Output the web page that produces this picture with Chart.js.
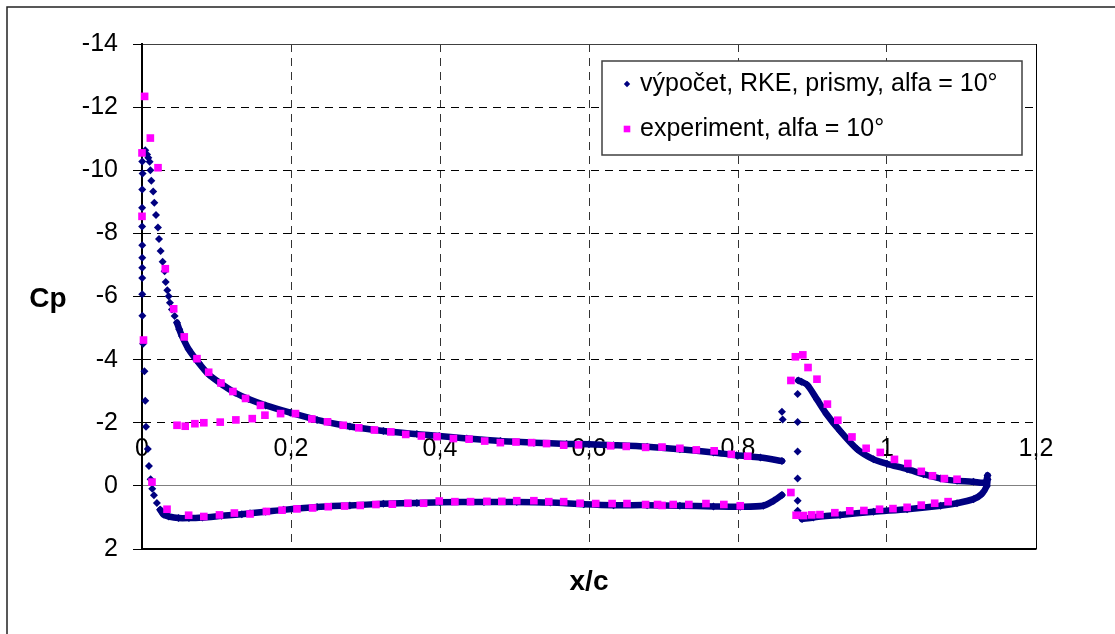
<!DOCTYPE html>
<html>
<head>
<meta charset="utf-8">
<script src="https://cdn.jsdelivr.net/npm/chart.js@4.4.1/dist/chart.umd.min.js"></script>
<style>
html, body { margin: 0; padding: 0; background: #fff; }
canvas { display: block; }
</style>
</head>
<body>
<canvas id="chart" width="1115" height="634"></canvas>
<script>
// values: [x/c, Cp]
var calcLabel = 'výpočet, RKE, prismy, alfa = 10°';
var expLabel = 'experiment, alfa = 10°';
var xTitle = 'x/c';
var yTitle = 'Cp';
var xTickLabels = ['0', '0,2', '0,4', '0,6', '0,8', '1', '1,2'];

// computed - sparse points round the main element nose
var calcNoseLower = [[0.0003,-10.28],[0.0008,-9.90],[0.0003,-9.39],[0.0002,-8.81],[0.0002,-8.22],[0.0003,-7.62],
  [0.0003,-7.23],[0.0003,-6.91],[0.0003,-6.59],[0.0003,-6.07],[0.0005,-5.39],[0.0015,-4.50],[0.0033,-3.63],
  [0.0044,-2.70],[0.0054,-1.87],[0.0078,-1.17],[0.0093,-0.63],[0.0116,-0.21],[0.0138,0.09],[0.016,0.30],
  [0.020,0.54],[0.0245,0.76]];
var calcNoseUpper = [[0.0044,-10.63],[0.0068,-10.50],[0.0085,-10.40],[0.0102,-10.27],[0.0112,-10.0],[0.0125,-9.67],
  [0.0150,-9.33],[0.0165,-8.97],[0.0188,-8.58],[0.0214,-8.19],[0.0228,-7.82],[0.0250,-7.44],[0.0277,-7.10],
  [0.0304,-6.80],[0.0318,-6.46],[0.0340,-6.20],[0.0358,-6.01],[0.0375,-5.80],[0.0402,-5.59],[0.0438,-5.38]];
var calcFlapNose = [[0.859,-2.35],[0.860,-2.10],[0.880,-2.91],[0.880,-2.02],[0.880,-1.09],[0.880,-0.23],[0.880,0.47],[0.880,0.79]];

// computed - dense parts
var calcUpper = [[0.0469,-5.17],[0.050,-4.96],[0.0536,-4.75],[0.0626,-4.33],[0.0761,-3.90],[0.0895,-3.53],[0.107,-3.22],
  [0.125,-2.95],[0.143,-2.75],[0.166,-2.55],[0.199,-2.32],[0.235,-2.09],[0.279,-1.88],[0.324,-1.74],[0.369,-1.64],
  [0.399,-1.58],[0.436,-1.50],[0.481,-1.42],[0.526,-1.37],[0.570,-1.33],[0.600,-1.32],[0.633,-1.29],[0.678,-1.24],
  [0.722,-1.16],[0.767,-1.06],[0.798,-0.97],[0.830,-0.90],[0.859,-0.79]];
var calcLower = [[0.0245,0.76],[0.029,0.91],[0.036,0.97],[0.049,1.02],[0.063,1.02],[0.081,1.00],[0.107,0.95],[0.134,0.90],
  [0.145,0.87],[0.166,0.82],[0.190,0.76],[0.235,0.67],[0.279,0.62],[0.324,0.57],[0.369,0.54],[0.400,0.52],[0.459,0.51],
  [0.503,0.51],[0.548,0.53],[0.593,0.58],[0.633,0.61],[0.678,0.61],[0.722,0.63],[0.767,0.65],[0.803,0.66],[0.834,0.63],
  [0.848,0.47],[0.859,0.29]];
var calcFlapUpper = [[0.881,-3.34],[0.885,-3.30],[0.893,-3.20],[0.906,-2.74],[0.919,-2.27],[0.937,-1.74],[0.960,-1.16],
  [0.982,-0.84],[1.000,-0.70],[1.027,-0.53],[1.049,-0.37],[1.072,-0.23],[1.094,-0.16],[1.116,-0.13],[1.132,-0.11],[1.135,-0.33]];
var calcFlapLower = [[0.886,1.05],[0.901,1.00],[0.937,0.92],[0.982,0.82],[1.027,0.74],[1.072,0.63],[1.094,0.55],
  [1.116,0.42],[1.127,0.26],[1.134,0.00],[1.135,-0.20]];

// experiment
var expMainUpper = [[0.0035,-12.34],[0.0112,-11.02],[0,-10.55],[0.0215,-10.08],[0,-8.54],[0.0313,-6.88],[0.0425,-5.61],
  [0.002,-4.62],[0.0567,-4.72],[0.0738,-4.03],[0.0895,-3.60],[0.106,-3.26],[0.122,-2.99],[0.139,-2.77],[0.159,-2.55],
  [0.047,-1.92],[0.058,-1.89],[0.071,-1.97],[0.083,-2.00],[0.105,-2.02],[0.126,-2.09],[0.148,-2.13],[0.165,-2.24],
  [0.186,-2.29],[0.206,-2.29],[0.228,-2.12],[0.249,-2.03],[0.270,-1.92],[0.291,-1.84],[0.312,-1.77],[0.334,-1.71],
  [0.354,-1.63],[0.375,-1.58],[0.396,-1.56],[0.418,-1.50],[0.439,-1.48],[0.460,-1.42],[0.481,-1.37],[0.502,-1.39],
  [0.523,-1.37],[0.543,-1.34],[0.566,-1.29],[0.586,-1.30],[0.629,-1.27],[0.650,-1.25],[0.676,-1.22],[0.698,-1.23],
  [0.722,-1.19],[0.744,-1.14],[0.768,-1.11],[0.791,-1.00],[0.813,-0.94]];
var expMainLower = [[0.0134,-0.12],[0.0336,0.74],[0.0626,0.93],[0.083,0.97],[0.104,0.92],[0.124,0.86],[0.145,0.89],
  [0.167,0.81],[0.188,0.77],[0.208,0.73],[0.229,0.70],[0.250,0.66],[0.272,0.64],[0.293,0.62],[0.314,0.59],[0.336,0.58],
  [0.357,0.55],[0.378,0.55],[0.399,0.48],[0.420,0.50],[0.441,0.50],[0.463,0.49],[0.483,0.49],[0.503,0.47],[0.526,0.47],
  [0.546,0.50],[0.566,0.50],[0.588,0.55],[0.609,0.56],[0.631,0.56],[0.651,0.56],[0.676,0.59],[0.692,0.59],[0.698,0.62],
  [0.713,0.59],[0.734,0.59],[0.757,0.56],[0.781,0.59],[0.803,0.63]];
var expFlapUpper = [[0.871,-3.34],[0.877,-4.09],[0.887,-4.15],[0.894,-3.75],[0.906,-3.38],[0.920,-2.59],[0.934,-2.08],
  [0.953,-1.55],[0.972,-1.19],[0.991,-1.06],[1.010,-0.84],[1.028,-0.71],[1.046,-0.46],[1.061,-0.32],[1.077,-0.23],[1.094,-0.21]];
var expFlapLower = [[0.871,0.21],[0.878,0.93],[0.888,0.94],[0.899,0.92],[0.910,0.91],[0.930,0.85],[0.950,0.79],
  [0.969,0.78],[0.990,0.74],[1.008,0.72],[1.027,0.68],[1.046,0.61],[1.064,0.55],[1.082,0.50]];

var FONT = "'Liberation Sans', Arial, Helvetica, sans-serif";
var NAVY = '#000080';
var MAGENTA = '#FF00FF';

Chart.defaults.font.family = FONT;
Chart.defaults.color = '#000';

function pts(arr) {
    return arr.map(function(p){ return {x: p[0], y: p[1]}; });
}

function bandSet(arr) {
    return {
        label: calcLabel,
        data: pts(arr),
        showLine: true,
        borderColor: NAVY,
        borderWidth: 6.5,
        borderJoinStyle: 'round',
        borderCapStyle: 'round',
        tension: 0.25,
        pointStyle: 'rectRot',
        pointRadius: 4,
        pointBorderWidth: 0,
        pointBackgroundColor: NAVY,
        clip: false,
        order: 1
    };
}

var extras = {
    id: 'extras',
    beforeDraw: function(chart) {
        var c = chart.ctx;
        c.save();
        c.fillStyle = '#fff';
        c.fillRect(0, 0, chart.width, chart.height);
        c.strokeStyle = '#222';
        c.lineWidth = 1.5;
        c.strokeRect(7, 7, chart.width + 20, chart.height + 20);
        c.restore();
    },
    afterDraw: function(chart) {
        var c = chart.ctx, a = chart.chartArea;
        c.save();
        c.fillStyle = '#000';
        c.font = 'bold 28px ' + FONT;
        c.textAlign = 'center';
        c.textBaseline = 'alphabetic';
        c.fillText(yTitle, 48, 307);

        // legend box
        var bx = a.right - 434, by = a.top + 17, bw = 420, bh = 94;
        c.fillStyle = '#fff';
        c.fillRect(bx, by, bw, bh);
        c.strokeStyle = '#404040';
        c.lineWidth = 1.5;
        c.strokeRect(bx, by, bw, bh);

        var mx = bx + 25;
        var row1 = by + 23, row2 = by + 68;
        c.fillStyle = NAVY;
        c.beginPath();
        c.moveTo(mx - 3.2, row1); c.lineTo(mx, row1 - 3.2); c.lineTo(mx + 3.2, row1); c.lineTo(mx, row1 + 3.2);
        c.closePath();
        c.fill();
        c.fillStyle = MAGENTA;
        c.fillRect(mx - 3.3, row2 - 3.3, 6.6, 6.6);

        c.fillStyle = '#000';
        c.font = '25px ' + FONT;
        c.textAlign = 'left';
        c.textBaseline = 'middle';
        c.fillText(calcLabel, bx + 38, row1);
        c.fillText(expLabel, bx + 38, row2);
        c.restore();
    }
};

var ctx = document.getElementById('chart').getContext('2d');
var chart = new Chart(ctx, {
    type: 'scatter',
    data: {
        datasets: [
            {
                label: calcLabel,
                data: pts(calcNoseLower.concat(calcNoseUpper, calcFlapNose)),
                pointStyle: 'rectRot',
                pointRadius: 4,
                pointBorderWidth: 0,
                pointBackgroundColor: NAVY,
                clip: false,
                order: 1
            },
            bandSet(calcUpper),
            bandSet(calcLower),
            bandSet(calcFlapUpper),
            bandSet(calcFlapLower),
            {
                label: expLabel,
                data: pts(expMainUpper.concat(expMainLower, expFlapUpper, expFlapLower)),
                pointStyle: 'rect',
                pointRadius: 5.4,
                pointBorderWidth: 0,
                pointBackgroundColor: MAGENTA,
                clip: false,
                order: 0
            }
        ]
    },
    options: {
        responsive: false,
        animation: false,
        devicePixelRatio: 1,
        layout: { padding: { left: 0, top: 44, right: 79, bottom: 0 } },
        plugins: {
            legend: { display: false },
            tooltip: { enabled: false }
        },
        scales: {
            x: {
                type: 'linear',
                min: 0,
                max: 1.2,
                ticks: {
                    stepSize: 0.2,
                    mirror: true,
                    padding: 85,
                    font: { size: 25 },
                    color: '#000',
                    callback: function(value) { return xTickLabels[Math.round(value / 0.2)]; }
                },
                grid: {
                    drawTicks: false,
                    color: function(c) {
                        var v = c.tick ? c.tick.value : 0;
                        return (Math.abs(v) < 1e-6 || Math.abs(v - 1.2) < 1e-6) ? '#000' : '#333';
                    }
                },
                border: {
                    color: '#000',
                    width: 1.5,
                    dash: function(c) {
                        if (!c.tick) return [];
                        var v = c.tick.value;
                        return (Math.abs(v) < 1e-6 || Math.abs(v - 1.2) < 1e-6) ? [] : [8, 6];
                    }
                },
                title: {
                    display: true,
                    text: xTitle,
                    font: { size: 28, weight: 'bold' },
                    color: '#000',
                    padding: { top: 0, bottom: 35 }
                },
                afterFit: function(scale) {
                    scale.height = 85;
                    scale.paddingLeft = 0;
                    scale.paddingRight = 0;
                }
            },
            y: {
                type: 'linear',
                min: -14,
                max: 2,
                reverse: true,
                ticks: {
                    stepSize: 2,
                    padding: 15,
                    font: { size: 25 },
                    color: '#000'
                },
                grid: {
                    tickLength: 9,
                    color: function(c) {
                        var v = c.tick ? c.tick.value : 1;
                        if (v === 0) return '#808080';
                        if (v === -14) return '#404040';
                        return '#000';
                    },
                    tickColor: '#000'
                },
                border: {
                    color: '#000',
                    width: 2,
                    dash: function(c) {
                        if (!c.tick) return [];
                        var v = c.tick.value;
                        return (v === 0 || v === -14 || v === 2) ? [] : [8, 6];
                    }
                },
                afterFit: function(scale) { scale.width = 142; }
            }
        }
    },
    plugins: [extras]
});
</script>
</body>
</html>
